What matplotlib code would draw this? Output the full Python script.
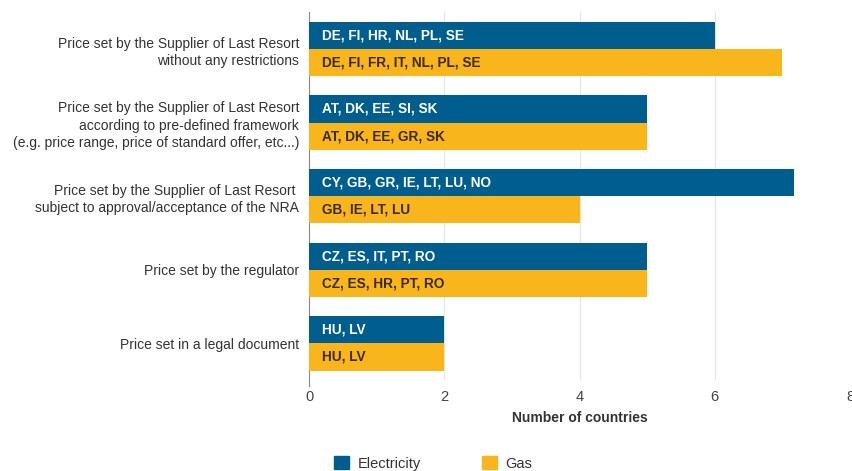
import matplotlib.pyplot as plt
import numpy as np
from matplotlib.patches import Patch

categories = [
    'Price set by the Supplier of Last Resort\nwithout any restrictions',
    'Price set by the Supplier of Last Resort\naccording to pre-defined framework\n(e.g. price range, price of standard offer, etc...)',
    'Price set by the Supplier of Last Resort \nsubject to approval/acceptance of the NRA',
    'Price set by the regulator',
    'Price set in a legal document',
]
electricity = [6, 5, 7.17, 5, 2]
gas = [7, 5, 4, 5, 2]
electricity_labels = ['DE, FI, HR, NL, PL, SE', 'AT, DK, EE, SI, SK',
                      'CY, GB, GR, IE, LT, LU, NO', 'CZ, ES, IT, PT, RO', 'HU, LV']
gas_labels = ['DE, FI, FR, IT, NL, PL, SE', 'AT, DK, EE, GR, SK',
              'GB, IE, LT, LU', 'CZ, ES, HR, PT, RO', 'HU, LV']
xticks = [0, 2, 4, 6, 8]

BLUE = '#005e8e'
YELLOW = '#f8b61c'
font = ['Liberation Sans', 'DejaVu Sans']

fig = plt.figure(figsize=(8.52, 4.71), dpi=100)
ax = fig.add_axes([0.3627, 0.193, 0.635, 0.781])

y = np.arange(len(categories))
h = 0.37
ax.barh(y - h / 2, electricity, height=h, color=BLUE, zorder=3)
ax.barh(y + h / 2, gas, height=h, color=YELLOW, zorder=3)

for i in range(len(categories)):
    ax.text(0.19, y[i] - h / 2, electricity_labels[i], color='white', fontsize=9.8,
            fontweight='bold', family=font, va='center', ha='left', zorder=4)
    ax.text(0.19, y[i] + h / 2, gas_labels[i], color='#3b2a05', fontsize=9.8,
            fontweight='bold', family=font, va='center', ha='left', zorder=4)

ax.set_ylim(len(categories) - 0.5, -0.5)
ax.set_xlim(0, 8)
ax.set_yticks(y)
ax.set_yticklabels(categories, family=font, fontsize=10, color='#333333',
                   ha='right', linespacing=1.3)
ax.tick_params(axis='y', length=0, pad=7)
ax.set_xticks(xticks)
ax.set_xticklabels([str(t) for t in xticks], family=font, fontsize=10.5, color='#444444')
ax.tick_params(axis='x', length=0, pad=7)
ax.grid(axis='x', color='#e4e4e4', linewidth=0.8, zorder=0)

for s in ['top', 'right', 'bottom']:
    ax.spines[s].set_visible(False)
ax.spines['left'].set_color('#888888')
ax.spines['left'].set_bounds(len(categories) - 0.5 + 0.08, -0.5)

ax.set_xlabel('Number of countries', family=font, fontsize=10,
              fontweight='bold', color='#333333', labelpad=5)

handles = [Patch(color=BLUE, label='Electricity'), Patch(color=YELLOW, label='Gas')]
fig.legend(handles=handles, loc='lower left', bbox_to_anchor=(0.377, -0.027), ncol=2,
           frameon=False, prop={'family': font, 'size': 10.5},
           handlelength=1.0, handleheight=1.0, columnspacing=4.2, handletextpad=0.6)
for t in fig.legends[0].get_texts():
    t.set_color('#333333')

fig.savefig('out.png', dpi=100)
